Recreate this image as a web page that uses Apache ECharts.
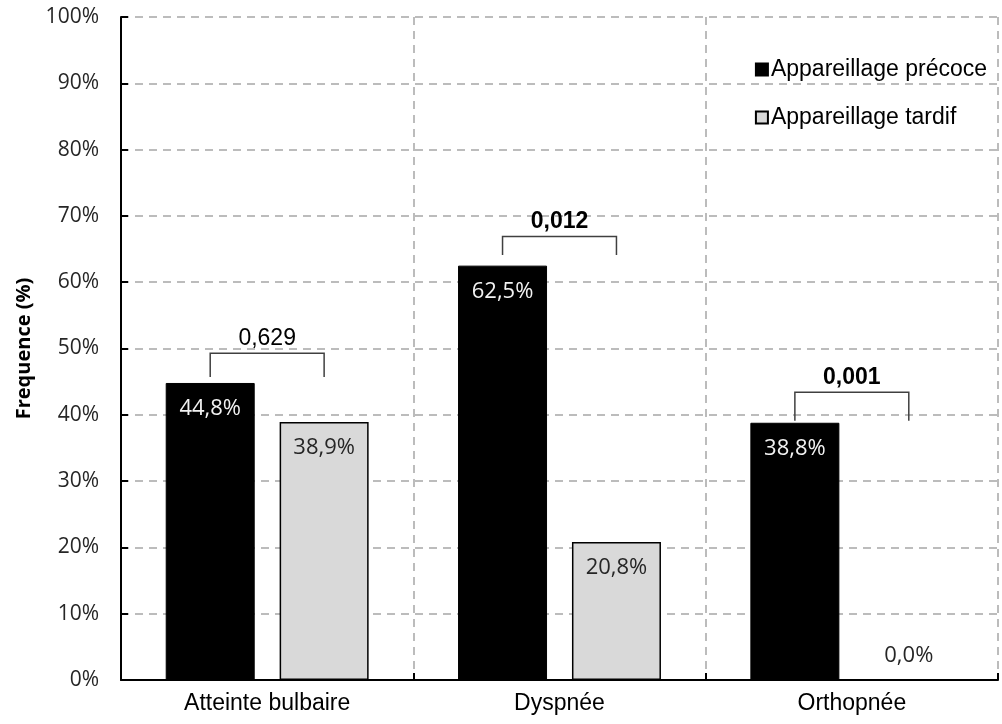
<!DOCTYPE html>
<html>
<head>
<meta charset="utf-8">
<style>
  html, body { margin: 0; padding: 0; background: #ffffff; }
  #chart { width: 1002px; height: 724px; }
</style>
<script src="https://cdn.jsdelivr.net/npm/echarts@6/dist/echarts.min.js"></script>
</head>
<body>
<div id="chart"></div>
<script>
// Symptom categories and frequencies (%) for each group
const categories = ['Atteinte bulbaire', 'Dyspnée', 'Orthopnée'];
const seriesNames = ['Appareillage précoce', 'Appareillage tardif'];
const precoce = [44.8, 62.5, 38.8];
const tardif = [38.9, 20.8, 0.0];

// p-values shown above each pair of bars, with bracket top and leg ends (%)
const pValues = ['0,629', '0,012', '0,001'];
const pBold = [false, true, true];
const bracketTop = [49.3, 66.9, 43.4];
const bracketLegEnd = [45.7, 64.1, 39.1];

const yTicks = [0, 10, 20, 30, 40, 50, 60, 70, 80, 90, 100];

const FONT = '"Open Sans", "Noto Sans", sans-serif';
const FONT_ARIAL = '"Liberation Sans", Arial, sans-serif';
const BAR_WIDTH = 89;
const BAR_GAP = 0.28;

function pct(v) {
  return v.toFixed(1).replace('.', ',') + '%';
}

const chart = echarts.init(document.getElementById('chart'), null, { renderer: 'canvas' });

const bracketData = categories.map((c, i) => [i, bracketTop[i], bracketLegEnd[i], pValues[i], pBold[i] ? 1 : 0]);

chart.setOption({
  animation: false,
  backgroundColor: '#ffffff',
  textStyle: { fontFamily: FONT },
  grid: { left: 121, right: 4, top: 17, bottom: 44, containLabel: false },
  legend: {
    orient: 'vertical',
    right: 10,
    top: 53,
    itemWidth: 12,
    itemHeight: 12,
    itemGap: 25,
    icon: 'rect',
    data: seriesNames,
    textStyle: { fontFamily: FONT_ARIAL, fontSize: 23, color: '#000000', padding: [0, 0, 0, -2] }
  },
  xAxis: {
    type: 'category',
    data: categories,
    axisLine: { lineStyle: { color: '#000000', width: 2 } },
    axisTick: { show: true, inside: true, length: 7, lineStyle: { color: '#000000', width: 2 } },
    axisLabel: { color: '#000000', fontSize: 23, fontFamily: FONT_ARIAL, margin: 12 },
    splitLine: { show: true, lineStyle: { color: '#a6a6a6', width: 1.5, type: [8, 6] } }
  },
  yAxis: {
    type: 'value',
    min: yTicks[0],
    max: yTicks[yTicks.length - 1],
    interval: yTicks[1] - yTicks[0],
    name: 'Frequence (%)',
    nameLocation: 'middle',
    nameGap: 87,
    nameTextStyle: { fontFamily: FONT, fontSize: 20, fontWeight: 'bold', color: '#000000' },
    axisLine: { show: true, lineStyle: { color: '#000000', width: 2 } },
    axisTick: { show: true, inside: true, length: 7, lineStyle: { color: '#000000', width: 2 } },
    axisLabel: { color: '#262626', fontSize: 21, fontFamily: FONT, margin: 22, formatter: '{value}%' },
    splitLine: { show: true, lineStyle: { color: '#a6a6a6', width: 1.5, type: [8, 6] } }
  },
  series: [
    {
      name: seriesNames[0],
      type: 'bar',
      barWidth: BAR_WIDTH,
      barGap: (BAR_GAP * 100) + '%',
      data: precoce,
      itemStyle: { color: '#000000', borderColor: '#000000', borderWidth: 1 },
      label: {
        show: true,
        position: 'insideTop',
        distance: 15,
        color: '#f2f2f2',
        fontSize: 22,
        fontFamily: FONT,
        formatter: p => pct(p.value)
      }
    },
    {
      name: seriesNames[1],
      type: 'bar',
      barWidth: BAR_WIDTH,
      data: tardif.map(v => v === 0
        ? { value: v, label: { position: 'top', distance: 13 } }
        : v),
      itemStyle: { color: '#d9d9d9', borderColor: '#000000', borderWidth: 1.5 },
      label: {
        show: true,
        position: 'insideTop',
        distance: 15,
        color: '#262626',
        fontSize: 22,
        fontFamily: FONT,
        formatter: p => pct(p.value)
      }
    },
    {
      // significance brackets joining the two bars of each category
      name: 'p',
      type: 'custom',
      silent: true,
      z: 5,
      data: bracketData,
      renderItem: function (params, api) {
        const cat = api.value(0);
        const top = api.coord([cat, api.value(1)]);
        const leg = api.coord([cat, api.value(2)]);
        const half = BAR_WIDTH * (1 + BAR_GAP) / 2;
        const x1 = top[0] - half;
        const x2 = top[0] + half;
        const style = { stroke: '#404040', lineWidth: 1.5, fill: null };
        return {
          type: 'group',
          children: [
            { type: 'polyline', shape: { points: [[x1, leg[1]], [x1, top[1]], [x2, top[1]], [x2, leg[1]]] }, style: style },
            {
              type: 'text',
              style: {
                x: top[0],
                y: top[1] - 3,
                text: api.value(3),
                align: 'center',
                verticalAlign: 'bottom',
                font: (api.value(4) ? 'bold ' : '') + '23px ' + FONT_ARIAL,
                fill: '#000000'
              }
            }
          ]
        };
      }
    }
  ]
});
</script>
</body>
</html>
